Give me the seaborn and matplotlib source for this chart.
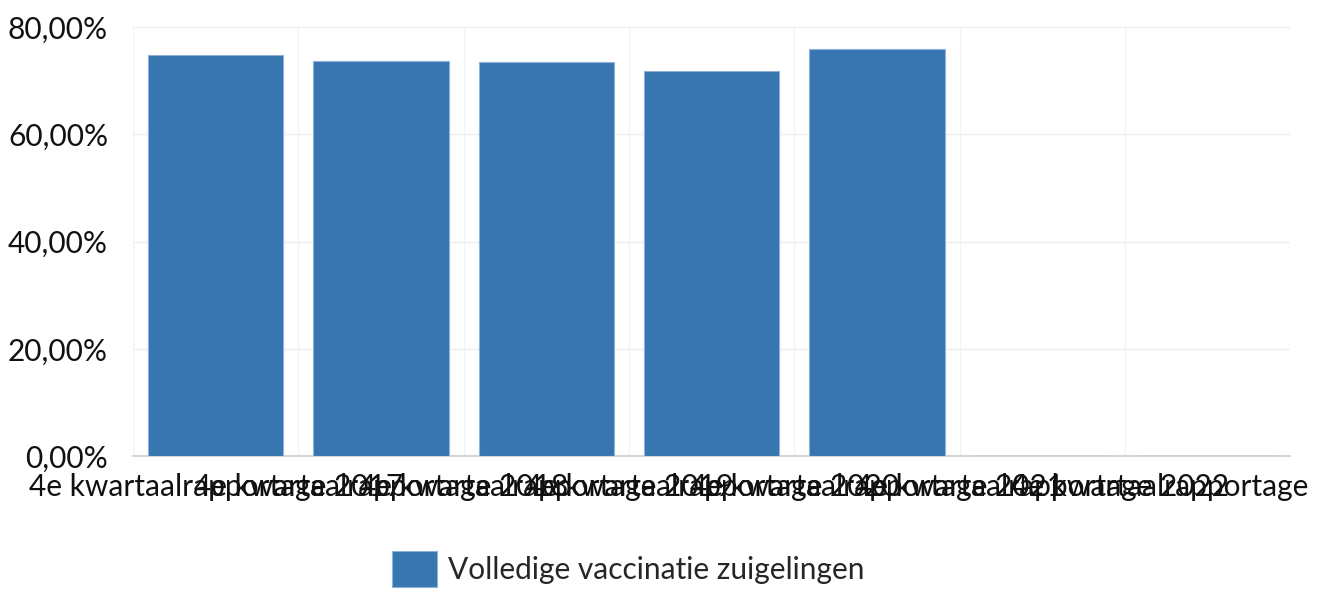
import matplotlib
matplotlib.use("Agg")
import matplotlib.pyplot as plt
import seaborn as sns
import pandas as pd
from matplotlib.ticker import FuncFormatter
from matplotlib.transforms import ScaledTranslation

categories = [
    "4e kwartaalrapportage 2017",
    "4e kwartaalrapportage 2018",
    "4e kwartaalrapportage 2019",
    "4e kwartaalrapportage 2020",
    "4e kwartaalrapportage 2021",
    "4e kwartaalrapportage 2022",
    "4e kwartaalrapportage",
]
values = [74.8, 73.7, 73.6, 71.9, 76.0, 0.0, 0.0]
series_name = "Volledige vaccinatie zuigelingen"
y_ticks = [0, 20, 40, 60, 80]

sns.set_theme(style="white")
plt.rcParams["font.family"] = ["Lato", "DejaVu Sans"]

df = pd.DataFrame({"cat": categories, "val": values, "series": series_name})

fig = plt.figure(figsize=(13.37, 5.92), dpi=100)
ax = fig.add_axes([0.0995, 0.2297, 0.8655, 0.7243])

bar_color = "#3776b0"
sns.barplot(data=df, x="cat", y="val", hue="series", palette=[bar_color],
            saturation=1, width=0.82, ax=ax, edgecolor="#8fb2d6", linewidth=0.8,
            legend=True, zorder=3)

ax.set_ylim(0, 80)
ax.set_xlim(-0.5, len(categories) - 0.5)
ax.set_yticks(y_ticks)
ax.yaxis.set_major_formatter(FuncFormatter(lambda v, p: f"{v:.2f}".replace(".", ",") + "%"))
ax.set_xlabel("")
ax.set_ylabel("")

# grid lines
for y in y_ticks[1:]:
    ax.axhline(y, color="#eeeeee", lw=1, zorder=0)
for i in range(len(categories) + 1):
    ax.axvline(i - 0.5, color="#f3f3f3", lw=1, zorder=0)

for s in ["top", "right", "left"]:
    ax.spines[s].set_visible(False)
ax.spines["bottom"].set_color("#cccccc")
ax.spines["bottom"].set_linewidth(1.2)
ax.spines["bottom"].set_zorder(2)

fs = 21.5
ax.tick_params(axis="y", labelsize=fs, colors="#111111", length=0, pad=18)
ax.tick_params(axis="x", labelsize=fs, colors="#111111", length=0, pad=12)

handles, labels = ax.get_legend_handles_labels()
ax.legend(handles, labels, loc="center", bbox_to_anchor=(0.428, -0.263),
          frameon=False, fontsize=fs, handlelength=1.5, handleheight=1.5,
          handletextpad=0.35, borderpad=0)

# justify x labels that overflow the figure's right edge (like the original)
fig.canvas.draw()
renderer = fig.canvas.get_renderer()
fig_w = fig.bbox.width
for lbl in ax.get_xticklabels():
    bb = lbl.get_window_extent(renderer)
    limit = fig_w - 29
    if bb.x1 > limit:
        dx = (limit - bb.x1) / fig.dpi
        lbl.set_transform(lbl.get_transform() + ScaledTranslation(dx, 0, fig.dpi_scale_trans))

fig.savefig("out.png", dpi=100, facecolor="white")
